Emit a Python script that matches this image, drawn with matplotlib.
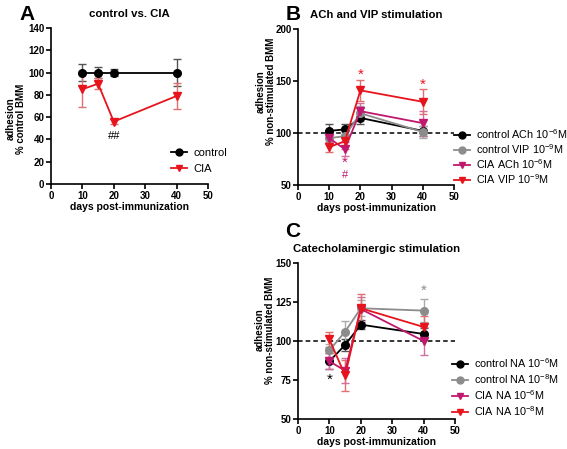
import matplotlib
matplotlib.use("Agg")
import matplotlib.pyplot as plt
from matplotlib.lines import Line2D

plt.rcParams['font.family'] = ['Liberation Sans', 'DejaVu Sans']
plt.rcParams['mathtext.fontset'] = 'custom'
plt.rcParams['mathtext.rm'] = 'Liberation Sans'
plt.rcParams['mathtext.it'] = 'Liberation Sans'
plt.rcParams['mathtext.bf'] = 'Liberation Sans:bold'

days = [10, 15, 20, 40]

# Panel A
a_control = [100, 100, 100, 100]
a_control_err = [8, 5, 3, 12]
a_cia = [85, 90, 56, 79]
a_cia_err = [16, 5, 2, 12]

# Panel B
b_ctrl_ach = [102, 103.5, 114.5, 102]
b_ctrl_ach_err = [6.5, 5, 6, 5]
b_ctrl_vip = [95, 97, 119, 101]
b_ctrl_vip_err = [5, 5, 7, 6]
b_cia_ach = [95, 84.5, 121, 109.5]
b_cia_ach_err = [5, 7, 8, 12]
b_cia_vip = [86.5, 92, 141, 130]
b_cia_vip_err = [5, 7, 10, 12]

# Panel C
c_ctrl_na6 = [87, 97.5, 110.5, 104.5]
c_ctrl_na6_err = [5, 4, 3, 4]
c_ctrl_na8 = [94, 106, 121, 119.5]
c_ctrl_na8_err = [4, 7, 5, 7.5]
c_cia_na6 = [87, 81, 120.5, 100]
c_cia_na6_err = [5, 8, 8, 9]
c_cia_na8 = [101, 78, 121, 109]
c_cia_na8_err = [5, 10, 9, 7]

b_labels = ['control ACh 10$^{-6}$M', 'control VIP 10$^{-9}$M',
            'CIA ACh 10$^{-6}$M', 'CIA VIP 10$^{-9}$M']
c_labels = ['control NA 10$^{-6}$M', 'control NA 10$^{-8}$M',
            'CIA NA 10$^{-6}$M', 'CIA NA 10$^{-8}$M']

BLACK = '#000000'
GRAY = '#8c8c8c'
MAG = '#c0186e'
RED = '#e8141c'

fig = plt.figure(figsize=(5.67, 4.49), dpi=100)

def style(ax, xlim, ylim, yticks, ylabel, ylab_xy):
    ax.set_xlim(*xlim)
    ax.set_ylim(*ylim)
    ax.set_xticks([0, 10, 20, 30, 40, 50])
    ax.set_yticks(yticks)
    for s in ['top', 'right']:
        ax.spines[s].set_visible(False)
    for s in ['left', 'bottom']:
        ax.spines[s].set_linewidth(1.2)
    ax.tick_params(direction='out', length=3.5, width=1.2, labelsize=7, pad=1.2)
    for lab in ax.get_xticklabels() + ax.get_yticklabels():
        lab.set_fontweight('bold')
    ax.set_xlabel('days post-immunization', fontsize=7.5, fontweight='bold', labelpad=1)
    ax.set_ylabel(ylabel, fontsize=7, fontweight='bold', linespacing=1.05)
    ax.yaxis.set_label_coords(*ylab_xy)

def series(ax, y, err, color, marker, ecolor):
    ax.errorbar(days, y, yerr=err, color=color, marker=marker, markersize=5.5,
                linewidth=1.3, ecolor=ecolor, elinewidth=1, capsize=3, capthick=1,
                clip_on=False, zorder=3)

def handle(color, marker):
    return Line2D([], [], color=color, marker=marker, markersize=5, lw=1.3)

def legend(ax, handles, labels, x, y, fs, spacing):
    ax.legend(handles=handles, labels=labels, loc='upper left',
              bbox_to_anchor=(x / 567, 1 - y / 449), bbox_transform=fig.transFigure,
              frameon=False, fontsize=fs, handlelength=1.45, handletextpad=0.6,
              labelspacing=spacing, borderpad=0, borderaxespad=0)

# ---------- Panel A ----------
axA = fig.add_axes([0.0899, 0.5902, 0.2769, 0.3474])
series(axA, a_control, a_control_err, BLACK, 'o', '#555555')
series(axA, a_cia, a_cia_err, RED, 'v', '#e07070')
style(axA, (0, 50), (0, 140), [0, 20, 40, 60, 80, 100, 120, 140],
      'adhesion\n% control BMM', (-0.16, 0.42))
axA.set_title('control vs. CIA', fontsize=8.2, fontweight='bold', pad=8)
axA.text(20, 43, '##', ha='center', va='center', fontsize=8, color='black')
legend(axA, [handle(BLACK, 'o'), handle(RED, 'v')], ['control', 'CIA'], 171, 148, 8, 0.5)
fig.text(0.035, 0.988, 'A', fontsize=15, fontweight='bold', va='top')

# ---------- Panel B ----------
axB = fig.add_axes([0.5256, 0.5880, 0.2751, 0.3474])
axB.axhline(100, color='black', linestyle=(0, (3, 2)), linewidth=1.1, zorder=1)
series(axB, b_ctrl_ach, b_ctrl_ach_err, BLACK, 'o', '#555555')
series(axB, b_ctrl_vip, b_ctrl_vip_err, GRAY, 'o', '#aaaaaa')
series(axB, b_cia_ach, b_cia_ach_err, MAG, 'v', '#d070a0')
series(axB, b_cia_vip, b_cia_vip_err, RED, 'v', '#e07070')
style(axB, (0, 50), (50, 200), [50, 100, 150, 200],
      'adhesion\n% non-stimulated BMM', (-0.14, 0.6))
axB.set_title('ACh and VIP stimulation', fontsize=8.2, fontweight='bold', pad=8)
axB.text(20, 156, '*', ha='center', va='center', fontsize=11, color=RED)
axB.text(40, 146, '*', ha='center', va='center', fontsize=11, color=RED)
axB.text(15, 71, '*', ha='center', va='center', fontsize=11, color=MAG)
axB.text(15, 60, '#', ha='center', va='center', fontsize=8, color=MAG)
legend(axB, [handle(BLACK, 'o'), handle(GRAY, 'o'), handle(MAG, 'v'), handle(RED, 'v')],
       b_labels, 454, 127, 7.8, 0.12)
fig.text(0.503, 0.988, 'B', fontsize=15, fontweight='bold', va='top')

# ---------- Panel C ----------
axC = fig.add_axes([0.5256, 0.0668, 0.2769, 0.3474])
axC.axhline(100, color='black', linestyle=(0, (3, 2)), linewidth=1.1, zorder=1)
series(axC, c_ctrl_na6, c_ctrl_na6_err, BLACK, 'o', '#555555')
series(axC, c_ctrl_na8, c_ctrl_na8_err, GRAY, 'o', '#aaaaaa')
series(axC, c_cia_na6, c_cia_na6_err, MAG, 'v', '#d070a0')
series(axC, c_cia_na8, c_cia_na8_err, RED, 'v', '#e07070')
style(axC, (0, 50), (50, 150), [50, 75, 100, 125, 150],
      'adhesion\n% non-stimulated BMM', (-0.147, 0.57))
axC.set_title('Catecholaminergic stimulation', fontsize=8.2, fontweight='bold', pad=8)
axC.text(10, 75, '*', ha='center', va='center', fontsize=11, color='black')
axC.text(40, 132, '*', ha='center', va='center', fontsize=11, color=GRAY)
legend(axC, [handle(BLACK, 'o'), handle(GRAY, 'o'), handle(MAG, 'v'), handle(RED, 'v')],
       c_labels, 452, 356, 7.8, 0.2)
fig.text(0.503, 0.505, 'C', fontsize=15, fontweight='bold', va='top')

fig.savefig('out.png', dpi=100)
